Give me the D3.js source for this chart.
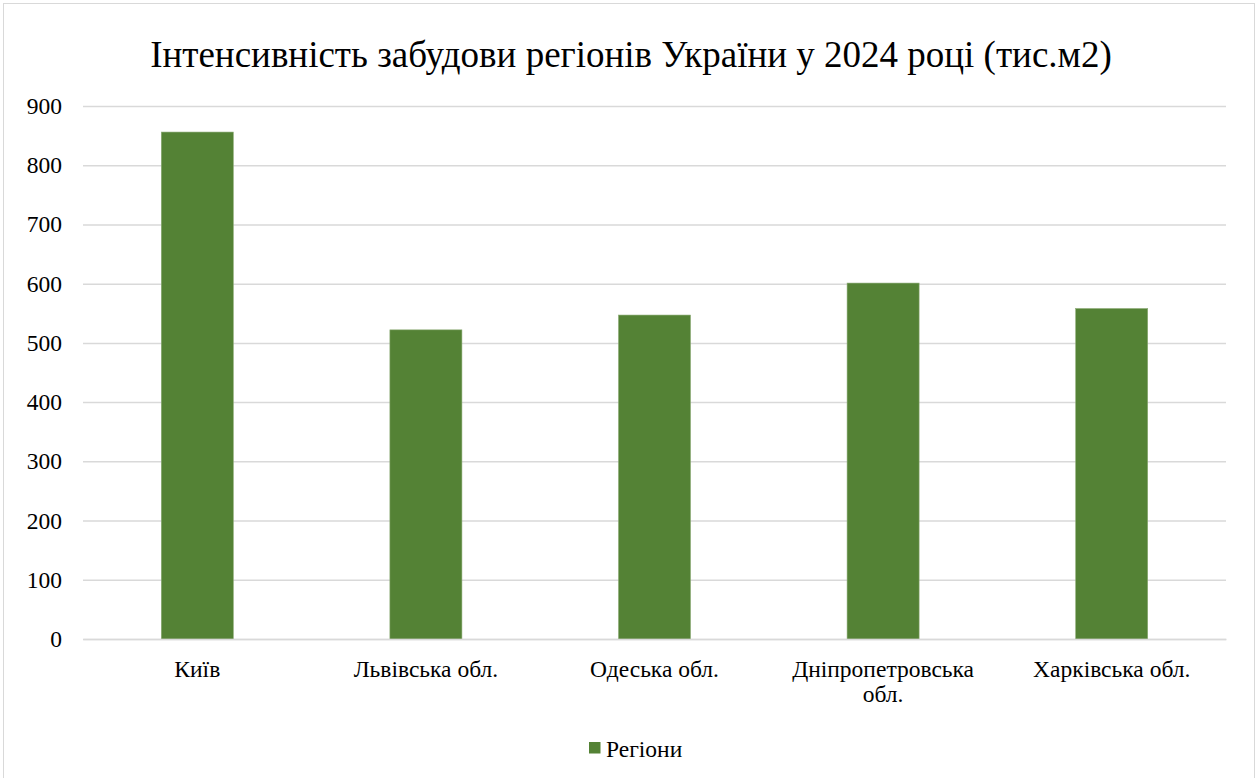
<!DOCTYPE html>
<html>
<head>
<meta charset="utf-8">
<script src="https://cdn.jsdelivr.net/npm/d3@7"></script>
<style>
  body { margin: 0; background: #fff; }
</style>
</head>
<body>
<div id="chart"></div>
<script>
// data
const regions = ['Київ', 'Львівська обл.', 'Одеська обл.', 'Дніпропетровська обл.', 'Харківська обл.']
const areas = [856, 522, 547, 601, 558]
const yTicks = [0, 100, 200, 300, 400, 500, 600, 700, 800, 900]
const title = 'Інтенсивність забудови регіонів України у 2024 році (тис.м2)'
const seriesName = 'Регіони'

const data = regions.map((name, i) => ({name, value: areas[i]}))

const width = 1259
const height = 778
const margin = ({top: 106, right: 33, bottom: 139, left: 83})
const font = '"Liberation Serif", "Times New Roman", serif'
const green = '#548235'
const labelSize = 23.5

const x = d3.scaleBand()
  .domain(regions)
  .range([margin.left, width - margin.right])
  .paddingInner(0.685)
  .paddingOuter(0.3425)
const y = d3.scaleLinear()
  .domain([0, 900])
  .range([height - margin.bottom, margin.top])

const svg = d3.create('svg')
  .attr('width', width)
  .attr('height', height)
  .attr('viewBox', [0, 0, width, height])
  .style('font-family', font)

// chart frame
svg.append('rect')
  .attr('x', 3.5).attr('y', 3.5)
  .attr('width', 1251).attr('height', 790)
  .attr('fill', '#fff')
  .attr('stroke', '#d9d9d9')
  .attr('stroke-width', 1)

svg.append('text')
  .attr('x', 631)
  .attr('y', 67)
  .attr('text-anchor', 'middle')
  .attr('font-family', font)
  .attr('font-size', 37)
  .attr('fill', '#000')
  .text(title)

// gridlines + y labels
const yAxis = g => g
  .attr('transform', `translate(${margin.left}, 0)`)
  .attr('font-family', font)
  .call(d3.axisLeft(y).tickValues(yTicks).tickSize(-(width - margin.left - margin.right)).tickPadding(21))
  .call(g => g.select('.domain').remove())
  .call(g => g.selectAll('.tick line').attr('stroke', '#d9d9d9').attr('stroke-width', 1.5))
  .call(g => g.selectAll('.tick text')
    .attr('font-family', font)
    .attr('font-size', labelSize)
    .attr('fill', '#000'))

svg.append('g').call(yAxis)

svg.append('g')
  .selectAll('rect')
  .data(data)
  .join('rect')
  .attr('x', d => x(d.name))
  .attr('y', d => y(d.value))
  .attr('width', x.bandwidth())
  .attr('height', d => y(0) - y(d.value))
  .attr('fill', green)
  .attr('stroke', '#8aa973')
  .attr('stroke-width', 0.6)

// category labels, wrapped like the original
const xAxis = g => g
  .attr('transform', `translate(0, ${y(0)})`)
  .attr('font-family', font)
  .call(d3.axisBottom(x).tickSize(0).tickPadding(0))
  .call(g => g.select('.domain').attr('stroke', '#d9d9d9').attr('stroke-width', 1.5))
  .call(g => g.selectAll('.tick text').each(function (d) {
    const t = d3.select(this)
    t.text(null)
      .attr('font-family', font)
      .attr('font-size', labelSize)
      .attr('fill', '#000')
      .attr('y', 0)
      .attr('dy', null)
    const lines = d === 'Дніпропетровська обл.' ? ['Дніпропетровська', 'обл.'] : [d]
    lines.forEach((l, i) => t.append('tspan').attr('x', 0).attr('y', 38 + i * 25).text(l))
  }))

svg.append('g').call(xAxis)

// legend
const legend = svg.append('g').attr('transform', 'translate(589, 742)')
legend.append('rect')
  .attr('width', 11.5).attr('height', 11.5)
  .attr('fill', green)
legend.append('text')
  .attr('x', 17)
  .attr('y', 15)
  .attr('font-family', font)
  .attr('font-size', labelSize)
  .attr('fill', '#000')
  .text(seriesName)

document.getElementById('chart').appendChild(svg.node())
</script>
</body>
</html>
